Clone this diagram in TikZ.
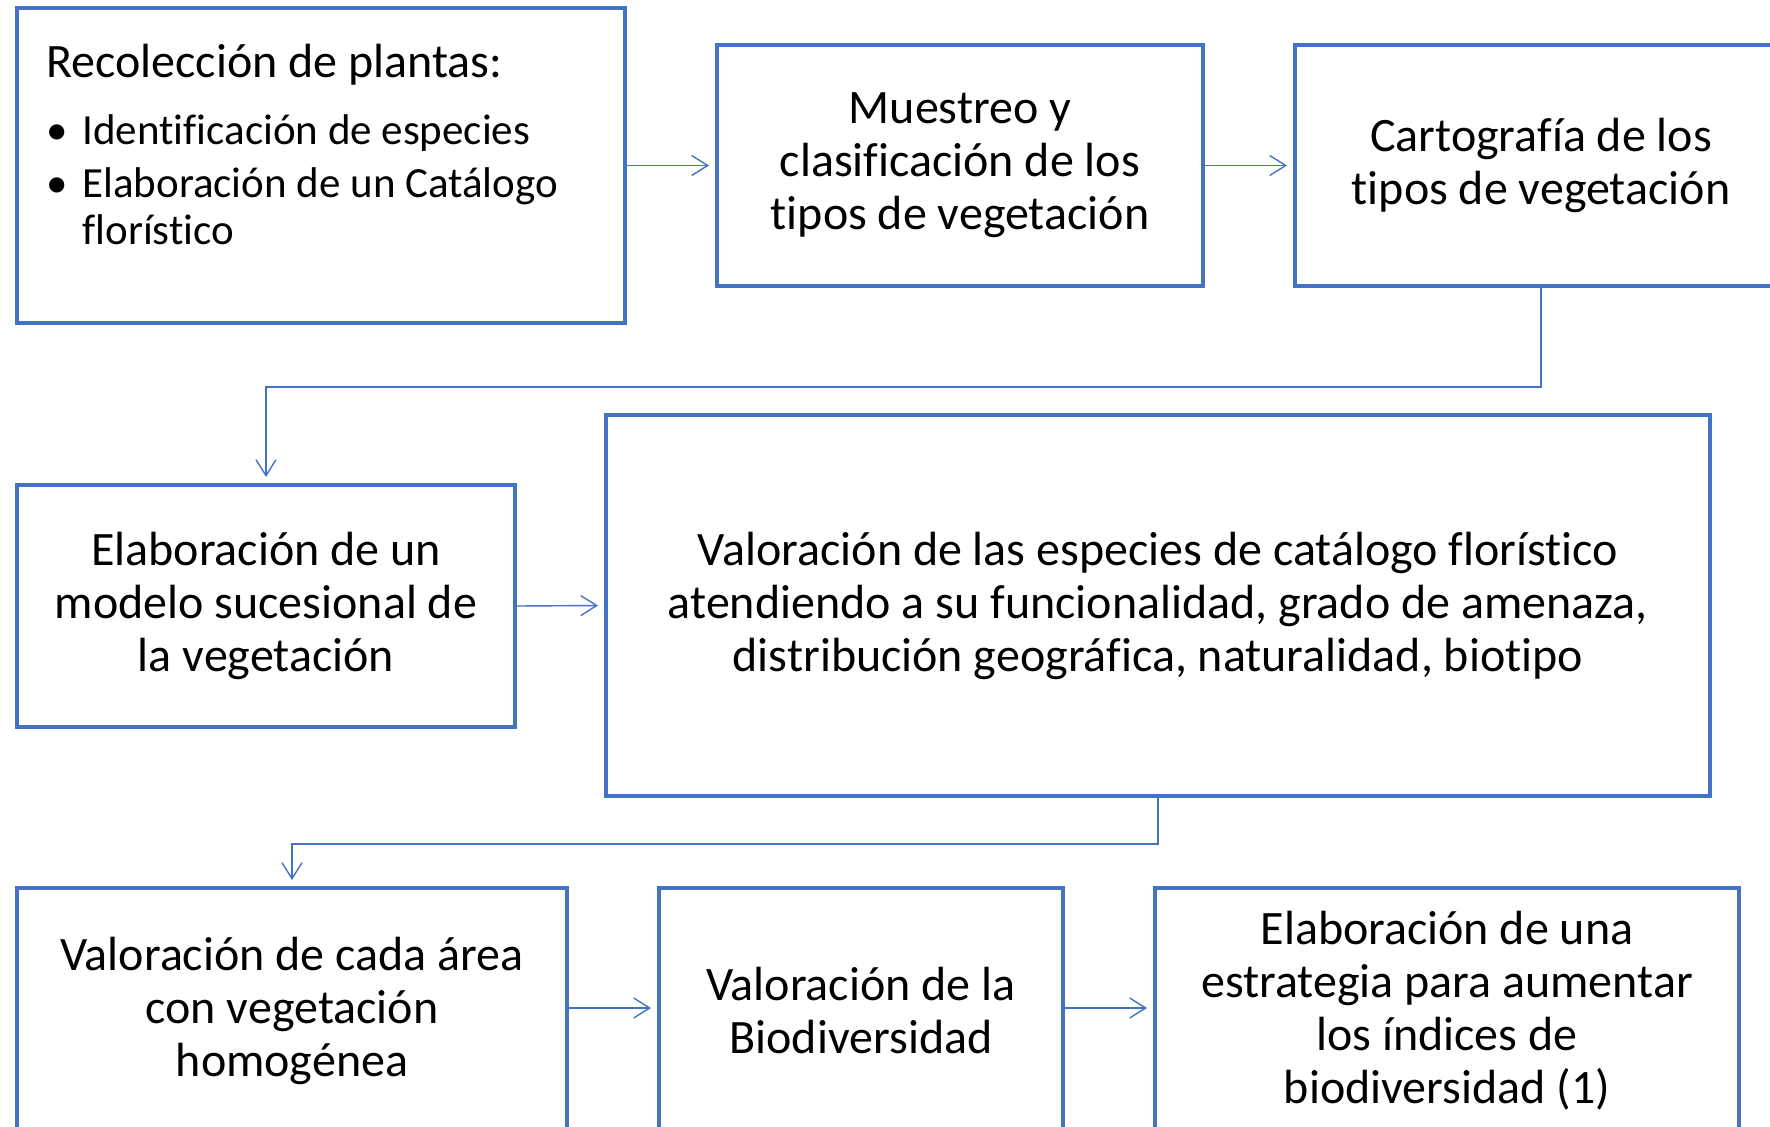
\documentclass[tikz,border=0pt]{standalone}
\usepackage{fontspec}
\setmainfont{Carlito}[Ligatures=NoCommon]
\usetikzlibrary{arrows.meta, positioning}
\definecolor{boxblue}{HTML}{4472C4}

\begin{document}
\begin{tikzpicture}[
		x=0.5pt, y=-0.5pt,
		box/.style		={ draw=boxblue, line width=2pt,
			inner sep=0pt, align=center,
			font=\fontsize{24}{26.5}\selectfont,
		},
		link/.style		={ draw=boxblue, line width=0.7pt,
			-{Straight Barb[length=8pt, width=10pt]}, shorten >=3pt,
		},
	]
	
	\useasboundingbox (0,0) rectangle (1770,1127);
	
	% first row
	\node [box, minimum width=304pt, minimum height=157.5pt] (recol) at (321,165.5) {};
	\node [anchor=base west, align=left, inner sep=0pt,
		font=\fontsize{21.5}{23.5}\selectfont] (recoltxt) at (46,245)
		{{\fontsize{24}{24}\selectfont Recolección de plantas:}\\[10.3pt]
		\makebox[18pt][l]{\textbullet}Identificación de especies\\[3pt]
		\makebox[18pt][l]{\textbullet}Elaboración de un Catálogo\\
		\hspace{18pt}florístico};
	\node [box, minimum width=243pt, minimum height=120.5pt] (muestreo) at (960,165.5)
		{Muestreo y\\clasificación de los\\tipos de vegetación};
	\node [box, minimum width=246pt, minimum height=120.5pt] (carto) at (1541,165.5)
		{Cartografía de los\\tipos de vegetación};
	
	% second row
	\node [box, minimum width=249pt, minimum height=121pt] (modelo) at (266,606)
		{Elaboración de un\\modelo sucesional de\\la vegetación};
	\node [box, minimum width=552pt, minimum height=190.5pt] (valesp) at (1158,605.5)
		{Valoración de las especies de catálogo florístico\\
		atendiendo a su funcionalidad, grado de amenaza,\\
		distribución geográfica, naturalidad, biotipo};
	
	% third row (cut off at the bottom)
	\node [box, minimum width=275pt, minimum height=123pt] (valarea) at (292,1011)
		{Valoración de cada área\\con vegetación\\homogénea};
	\node [box, minimum width=202pt, minimum height=123pt] (valbio) at (861,1011)
		{Valoración de la\\Biodiversidad};
	\node [box, minimum width=292pt, minimum height=123pt] (estrat) at (1447,1011)
		{Elaboración de una\\estrategia para aumentar\\los índices de\\biodiversidad (1)};
	
	% draw arrows
	\foreach \a/\b in {recol/muestreo, muestreo/carto, modelo/valesp}
		\draw [link] (\a.east) -- (\b.west);
	\foreach \a/\b in {valarea/valbio, valbio/estrat}
		\draw [link] ([yshift=1.5pt]\a.east) -- ([yshift=1.5pt]\b.west);
	\draw [link] (carto.south) -- ++(0,99) -| (modelo.north);
	\draw [link] (valesp.south) -- ++(0,46) -| (valarea.north);
	
\end{tikzpicture}
\end{document}
